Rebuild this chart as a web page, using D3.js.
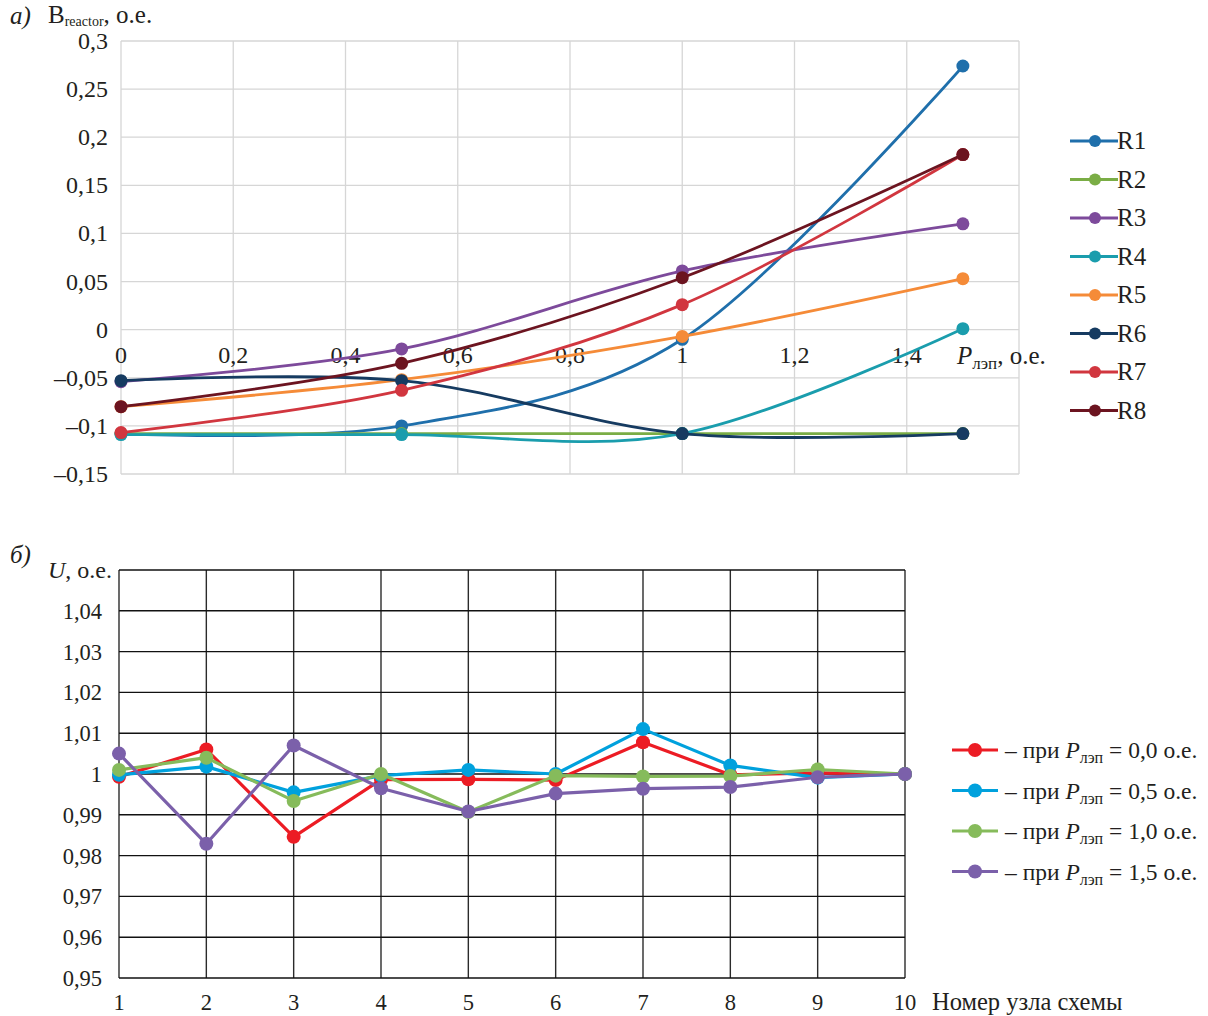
<!DOCTYPE html>
<html>
<head>
<meta charset="utf-8">
<script src="https://cdn.jsdelivr.net/npm/d3@7"></script>
<style>
  html, body { margin: 0; padding: 0; background: #fff; }
  svg text { font-family: "Liberation Serif", "Times New Roman", serif; fill: #231f20; }
</style>
</head>
<body>
<svg id="chart" width="1208" height="1016"></svg>
<script>
// ---- Chart а): reactor susceptance vs. line power ----
const powerLevels = [0, 0.5, 1, 1.5];
const reactorNames = ["R1", "R2", "R3", "R4", "R5", "R6", "R7", "R8"];
const reactorColors = ["#1f6fab", "#7aad45", "#7d4a9b", "#1a9dad", "#f58b38", "#163b61", "#d1363f", "#6c1420"];
const R1 = [-0.108, -0.100, -0.010, 0.274];
const R2 = [-0.108, -0.108, -0.108, -0.108];
const R3 = [-0.054, -0.020, 0.061, 0.110];
const R4 = [-0.109, -0.109, -0.108, 0.001];
const R5 = [-0.080, -0.052, -0.007, 0.053];
const R6 = [-0.053, -0.053, -0.108, -0.108];
const R7 = [-0.107, -0.063, 0.026, 0.182];
const R8 = [-0.080, -0.035, 0.054, 0.182];
const reactorValues = [R1, R2, R3, R4, R5, R6, R7, R8];
const topXTicks = [0, 0.2, 0.4, 0.6, 0.8, 1, 1.2, 1.4, 1.6];
const topYTicks = [-0.15, -0.1, -0.05, 0, 0.05, 0.1, 0.15, 0.2, 0.25, 0.3];

// ---- Chart б): node voltages ----
const nodes = [1, 2, 3, 4, 5, 6, 7, 8, 9, 10];
const voltageLabels = ["0,0", "0,5", "1,0", "1,5"];
const voltageColors = ["#ec1c24", "#00a1dd", "#86bb5b", "#7b60aa"];
const U00 = [0.9993, 1.0060, 0.9846, 0.9986, 0.9987, 0.9985, 1.0078, 0.9998, 1.0003, 1.0000];
const U05 = [0.9998, 1.0018, 0.9955, 0.9996, 1.0010, 1.0000, 1.0110, 1.0021, 0.9991, 1.0000];
const U10 = [1.0010, 1.0040, 0.9934, 1.0000, 0.9907, 0.9996, 0.9994, 0.9995, 1.0011, 1.0000];
const U15 = [1.0050, 0.9829, 1.0070, 0.9965, 0.9908, 0.9952, 0.9964, 0.9968, 0.9992, 1.0000];
const voltageValues = [U00, U05, U10, U15];
const botYTicks = [0.95, 0.96, 0.97, 0.98, 0.99, 1.0, 1.01, 1.02, 1.03, 1.04, 1.05];

const svg = d3.select("#chart");
const comma = v => String(v).replace(".", ",").replace("-", "–");

// ================= Chart а) =================
const xA = d3.scaleLinear().domain([0, 1.6]).range([121, 1019]);
const yA = d3.scaleLinear().domain([-0.15, 0.3]).range([474, 41]);
const gA = svg.append("g");

// grid
gA.append("g").selectAll("line").data(topXTicks).join("line")
  .attr("x1", d => xA(d)).attr("x2", d => xA(d))
  .attr("y1", yA(0.3)).attr("y2", yA(-0.15))
  .attr("stroke", "#d6d6d6").attr("stroke-width", 1.3);
gA.append("g").selectAll("line").data(topYTicks).join("line")
  .attr("x1", xA(0)).attr("x2", xA(1.6))
  .attr("y1", d => yA(d)).attr("y2", d => yA(d))
  .attr("stroke", "#d6d6d6").attr("stroke-width", 1.3);

// y tick labels
gA.append("g").selectAll("text").data(topYTicks).join("text")
  .attr("x", 108).attr("y", d => yA(d) + 8)
  .attr("text-anchor", "end").attr("font-size", 24)
  .text(d => d === 0 ? "0" : comma(d));

// x tick labels sit just under the zero line
gA.append("g").selectAll("text").data(topXTicks.slice(0, 8)).join("text")
  .attr("x", d => xA(d)).attr("y", yA(0) + 33)
  .attr("text-anchor", "middle").attr("font-size", 24)
  .text(d => comma(d));

// axis titles
const tA = svg.append("text").attr("x", 10).attr("y", 24).attr("font-size", 25);
tA.append("tspan").attr("font-style", "italic").text("а)");
const yTitleA = svg.append("text").attr("x", 48).attr("y", 23).attr("font-size", 25);
yTitleA.append("tspan").text("B");
yTitleA.append("tspan").attr("font-size", 14).attr("dy", 3).text("reactor");
yTitleA.append("tspan").attr("dy", -3).text(", о.е.");

const xTitleA = svg.append("text").attr("x", 957).attr("y", 364).attr("font-size", 25);
xTitleA.append("tspan").attr("font-style", "italic").text("P");
xTitleA.append("tspan").attr("font-size", 17).attr("dy", 5).text("лэп");
xTitleA.append("tspan").attr("dy", -5).text(", о.е.");

// series
const lineA = d3.line().x((d, i) => xA(powerLevels[i])).y(d => yA(d)).curve(d3.curveCatmullRom.alpha(0));
reactorValues.forEach((vals, k) => {
  const g = gA.append("g");
  g.append("path").datum(vals).attr("d", lineA)
    .attr("fill", "none").attr("stroke", reactorColors[k]).attr("stroke-width", 2.8);
  g.selectAll("circle").data(vals).join("circle")
    .attr("cx", (d, i) => xA(powerLevels[i])).attr("cy", d => yA(d))
    .attr("r", 6.5).attr("fill", reactorColors[k]);
});

// legend
const legA = svg.append("g");
reactorNames.forEach((name, k) => {
  const y = 141 + k * 38.5;
  legA.append("line").attr("x1", 1070).attr("x2", 1118).attr("y1", y).attr("y2", y)
    .attr("stroke", reactorColors[k]).attr("stroke-width", 2.8);
  legA.append("circle").attr("cx", 1095).attr("cy", y).attr("r", 6).attr("fill", reactorColors[k]);
  legA.append("text").attr("x", 1117).attr("y", y + 8).attr("font-size", 25).text(name);
});

// ================= Chart б) =================
const xB = d3.scaleLinear().domain([1, 10]).range([119, 905]);
const yB = d3.scaleLinear().domain([0.95, 1.05]).range([978, 570]);
const gB = svg.append("g");

gB.append("g").selectAll("line").data(nodes).join("line")
  .attr("x1", d => xB(d)).attr("x2", d => xB(d))
  .attr("y1", yB(1.05)).attr("y2", yB(0.95))
  .attr("stroke", "#2b2b2b").attr("stroke-width", 1.4);
gB.append("g").selectAll("line").data(botYTicks).join("line")
  .attr("x1", xB(1)).attr("x2", xB(10))
  .attr("y1", d => yB(d)).attr("y2", d => yB(d))
  .attr("stroke", "#111").attr("stroke-width", 1.4);

gB.append("g").selectAll("text").data(botYTicks.slice(0, 10)).join("text")
  .attr("x", 102).attr("y", d => yB(d) + 8)
  .attr("text-anchor", "end").attr("font-size", 22.5)
  .text(d => d === 1 ? "1" : d3.format(".2f")(d).replace(".", ","));

gB.append("g").selectAll("text").data(nodes).join("text")
  .attr("x", d => xB(d)).attr("y", 1010)
  .attr("text-anchor", "middle").attr("font-size", 22.5)
  .text(d => d);

svg.append("text").attr("x", 932).attr("y", 1010).attr("font-size", 24.5).text("Номер узла схемы");
svg.append("text").attr("x", 10).attr("y", 563).attr("font-size", 25)
  .attr("font-style", "italic").text("б)");
const yTitleB = svg.append("text").attr("x", 48).attr("y", 578).attr("font-size", 24);
yTitleB.append("tspan").attr("font-style", "italic").text("U");
yTitleB.append("tspan").text(", о.е.");

const lineB = d3.line().x((d, i) => xB(nodes[i])).y(d => yB(d));
voltageValues.forEach((vals, k) => {
  const g = gB.append("g");
  g.append("path").datum(vals).attr("d", lineB)
    .attr("fill", "none").attr("stroke", voltageColors[k]).attr("stroke-width", 3.2)
    .attr("stroke-linejoin", "round");
  g.selectAll("circle").data(vals).join("circle")
    .attr("cx", (d, i) => xB(nodes[i])).attr("cy", d => yB(d))
    .attr("r", 7).attr("fill", voltageColors[k]);
});

// legend б)
const legB = svg.append("g");
voltageLabels.forEach((lab, k) => {
  const y = 750 + k * 40.5;
  legB.append("line").attr("x1", 952).attr("x2", 998).attr("y1", y).attr("y2", y)
    .attr("stroke", voltageColors[k]).attr("stroke-width", 3.2);
  legB.append("circle").attr("cx", 975).attr("cy", y).attr("r", 7).attr("fill", voltageColors[k]);
  const t = legB.append("text").attr("x", 1005).attr("y", y + 8).attr("font-size", 23.5);
  t.append("tspan").text("– при ");
  t.append("tspan").attr("font-style", "italic").text("P");
  t.append("tspan").attr("font-size", 16).attr("dy", 5).text("лэп");
  t.append("tspan").attr("dy", -5).text(" = " + lab + " о.е.");
});
</script>
</body>
</html>
